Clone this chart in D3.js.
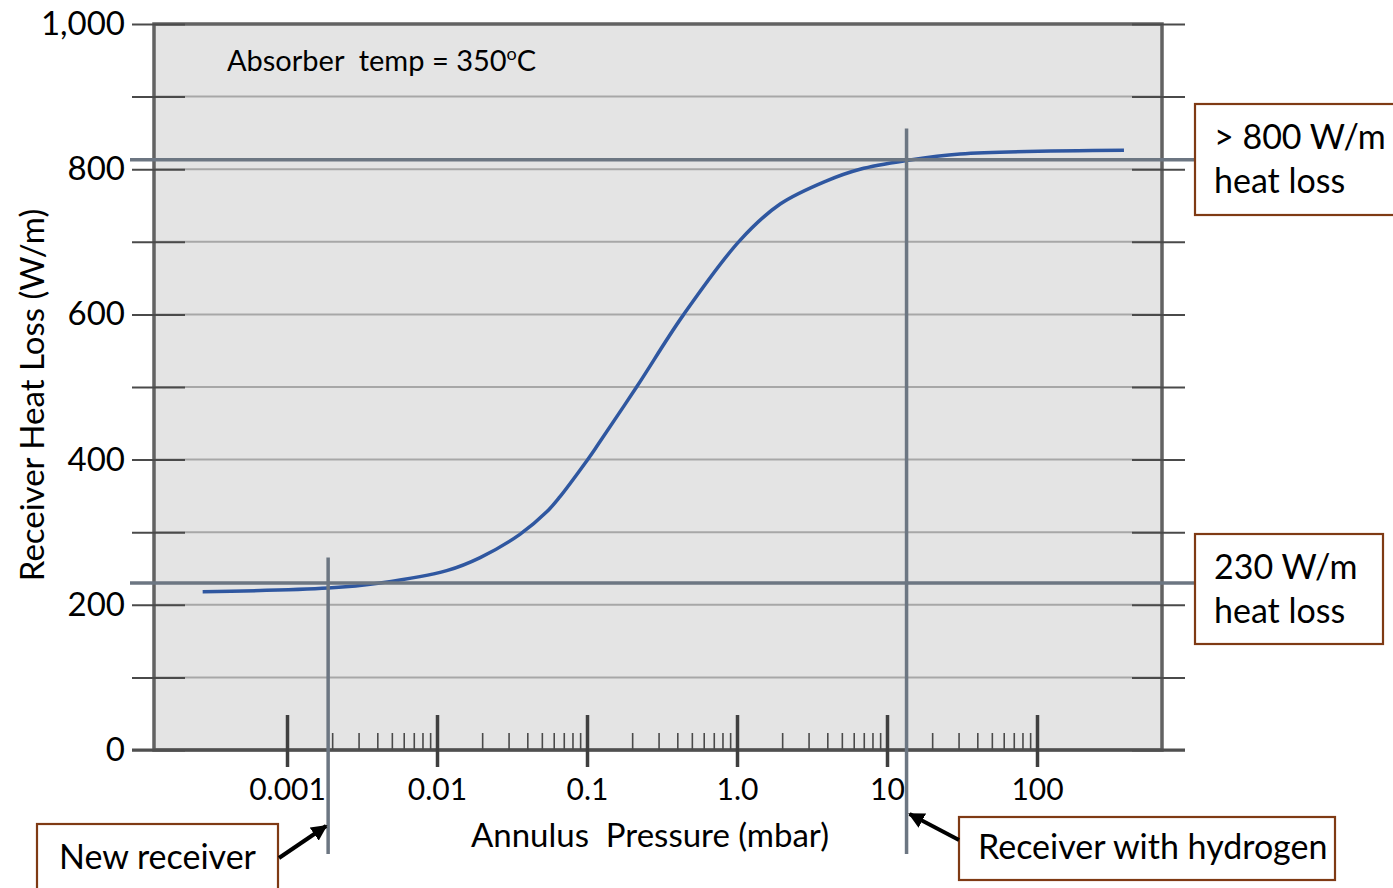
<!DOCTYPE html>
<html>
<head>
<meta charset="utf-8">
<script src="https://cdn.jsdelivr.net/npm/d3@7"></script>
<style>
  html, body { margin: 0; padding: 0; background: #ffffff; }
  svg { display: block; font-family: Lato, "Open Sans", sans-serif; }
</style>
</head>
<body>
<svg id="chart" width="1393" height="888"></svg>
<script>
// Heat loss of a receiver tube vs. annulus gas pressure (absorber at 350 °C)
const pressure = [0.000274, 0.00188, 0.00417, 0.0116, 0.0194, 0.0357, 0.0539, 0.0661,
                  0.097, 0.116, 0.214, 0.438, 1.047, 1.94, 3.96, 6.61, 13.5, 30.7, 380];
const heatLoss = [218, 223, 230, 247, 265, 297, 328, 349,
                  395, 418, 500, 599, 702, 752, 784, 800, 812, 821, 826];

const yTickValues = [0, 100, 200, 300, 400, 500, 600, 700, 800, 900, 1000];
const yTickLabels = ["0", "", "200", "", "400", "", "600", "", "800", "", "1,000"];
const xMajorTicks = [0.001, 0.01, 0.1, 1, 10, 100];
const xTickLabels = ["0.001", "0.01", "0.1", "1.0", "10", "100"];

// reference levels and marked receiver states
const refLevels = [813, 230];
const refLabels = [["> 800 W/m", "heat loss"], ["230 W/m", "heat loss"]];
const markPressures = [0.00188, 13.5];
const markLabels = ["New receiver", "Receiver with hydrogen"];

const svg = d3.select("#chart");
const L = 154, R = 1162, T = 24, B = 750;

const x = d3.scaleLog().domain([1.298e-4, 681.3]).range([L, R]);
const y = d3.scaleLinear().domain([0, 1000]).range([B, T]);

// plot background
svg.append("rect").attr("x", L).attr("y", T).attr("width", R - L).attr("height", B - T)
  .attr("fill", "#e4e4e4");

// horizontal gridlines
svg.append("g").selectAll("line").data(yTickValues.filter(v => v > 0 && v < 1000)).join("line")
  .attr("x1", L).attr("x2", R).attr("y1", d => y(d)).attr("y2", d => y(d))
  .attr("stroke", "#a7a7a7").attr("stroke-width", 2);

// plot frame
svg.append("rect").attr("x", L).attr("y", T).attr("width", R - L).attr("height", B - T)
  .attr("fill", "none").attr("stroke", "#626262").attr("stroke-width", 3.5);

// left value axis (ticks cross the frame)
const yAxisL = d3.axisLeft(y).tickValues(yTickValues)
  .tickFormat((d, i) => yTickLabels[i]).tickSize(53).tickPadding(7);
const gl = svg.append("g").attr("transform", `translate(185,0)`).call(yAxisL);
gl.select(".domain").remove();
gl.selectAll(".tick line").attr("stroke", "#4a4a4a").attr("stroke-width", 2);
gl.selectAll(".tick text").attr("fill", "#000").style("font-size", "33px")
  .style("font-family", "Lato, sans-serif");

// right tick marks
const yAxisR = d3.axisRight(y).tickValues(yTickValues).tickFormat("").tickSize(53);
const gr = svg.append("g").attr("transform", `translate(1132,0)`).call(yAxisR);
gr.select(".domain").remove();
gr.selectAll(".tick line").attr("stroke", "#4a4a4a").attr("stroke-width", 2);

// baseline
svg.append("line").attr("x1", 132).attr("x2", 1185).attr("y1", y(0)).attr("y2", y(0))
  .attr("stroke", "#4f4f4f").attr("stroke-width", 3);

// minor log ticks
const minorTicks = [];
xMajorTicks.slice(0, -1).forEach(d => { for (let k = 2; k <= 9; k++) minorTicks.push(d * k); });
const xMinor = d3.axisBottom(x).tickValues(minorTicks).tickFormat("").tickSize(-17);
const gmin = svg.append("g").attr("transform", `translate(0,${B})`).call(xMinor);
gmin.select(".domain").remove();
gmin.selectAll(".tick line").attr("stroke", "#4a4a4a").attr("stroke-width", 1.6);

// major log ticks with labels
const xMajor = d3.axisBottom(x).tickValues(xMajorTicks)
  .tickFormat((d, i) => xTickLabels[i]).tickSize(-52).tickPadding(12);
const gmaj = svg.append("g").attr("transform", `translate(0,767)`).call(xMajor);
gmaj.select(".domain").remove();
gmaj.selectAll(".tick line").attr("stroke", "#3f3f3f").attr("stroke-width", 3.5);
gmaj.selectAll(".tick text").attr("fill", "#000").style("font-size", "30px")
  .style("font-family", "Lato, sans-serif");

// heat loss curve
const line = d3.line().x((d, i) => x(pressure[i])).y(d => y(d)).curve(d3.curveCatmullRom.alpha(0.5));
svg.append("path").datum(heatLoss).attr("d", line)
  .attr("fill", "none").attr("stroke", "#2f57a0").attr("stroke-width", 3.5)
  .attr("stroke-linecap", "butt");

// reference level lines
svg.append("g").selectAll("line").data(refLevels).join("line")
  .attr("x1", 130).attr("x2", 1195).attr("y1", d => y(d)).attr("y2", d => y(d))
  .attr("stroke", "#6c7682").attr("stroke-width", 3.5);

// marked pressures
const markTops = [265, 856];
svg.append("g").selectAll("line").data(markPressures).join("line")
  .attr("x1", d => x(d)).attr("x2", d => x(d))
  .attr("y1", (d, i) => y(markTops[i])).attr("y2", y(0) + 104)
  .attr("stroke", "#6c7682").attr("stroke-width", 3.5);

// annotation boxes
const boxStroke = "#7f3a14";
function box(x0, y0, w, h) {
  svg.append("rect").attr("x", x0).attr("y", y0).attr("width", w).attr("height", h)
    .attr("fill", "#fff").attr("stroke", boxStroke).attr("stroke-width", 2.2);
}
function label(txt, tx, ty, size) {
  svg.append("text").attr("x", tx).attr("y", ty).text(txt)
    .style("font-size", size + "px").attr("fill", "#000");
}

box(1195, 104, 200, 111);
label(refLabels[0][0], 1214, 149, 34);
label(refLabels[0][1], 1214, 193, 34);

box(1195, 534, 188, 110);
label(refLabels[1][0], 1214, 579, 34);
label(refLabels[1][1], 1214, 623, 34);

box(37, 824, 241, 80);
label(markLabels[0], 59, 869, 34);

box(959, 817, 376, 63);
label(markLabels[1], 978, 859, 34);

// arrows
const defs = svg.append("defs");
defs.append("marker").attr("id", "head").attr("viewBox", "0 0 10 10")
  .attr("refX", 9).attr("refY", 5).attr("markerWidth", 4).attr("markerHeight", 4)
  .attr("orient", "auto").attr("markerUnits", "strokeWidth")
  .append("path").attr("d", "M0,0 L10,5 L0,10 Z").attr("fill", "#000");

svg.append("line").attr("x1", 279).attr("y1", 858).attr("x2", x(markPressures[0]) - 2).attr("y2", 826)
  .attr("stroke", "#000").attr("stroke-width", 4).attr("marker-end", "url(#head)");
svg.append("line").attr("x1", 959).attr("y1", 840).attr("x2", x(markPressures[1]) + 3).attr("y2", 814)
  .attr("stroke", "#000").attr("stroke-width", 4).attr("marker-end", "url(#head)");

// axis titles
svg.append("text").attr("x", 650).attr("y", 847).attr("text-anchor", "middle")
  .style("font-size", "33px").style("white-space", "pre").attr("xml:space", "preserve")
  .text("Annulus  Pressure (mbar)");
svg.append("text").attr("transform", "translate(44,395) rotate(-90)").attr("text-anchor", "middle")
  .style("font-size", "33px").text("Receiver Heat Loss (W/m)");

// condition note
const note = svg.append("text").attr("x", 227).attr("y", 71).style("font-size", "29px")
  .attr("xml:space", "preserve").style("white-space", "pre");
note.append("tspan").text("Absorber  temp = 350");
note.append("tspan").attr("dy", -11).style("font-size", "18px").text("o");
note.append("tspan").attr("dy", 11).text("C");
</script>
</body>
</html>
